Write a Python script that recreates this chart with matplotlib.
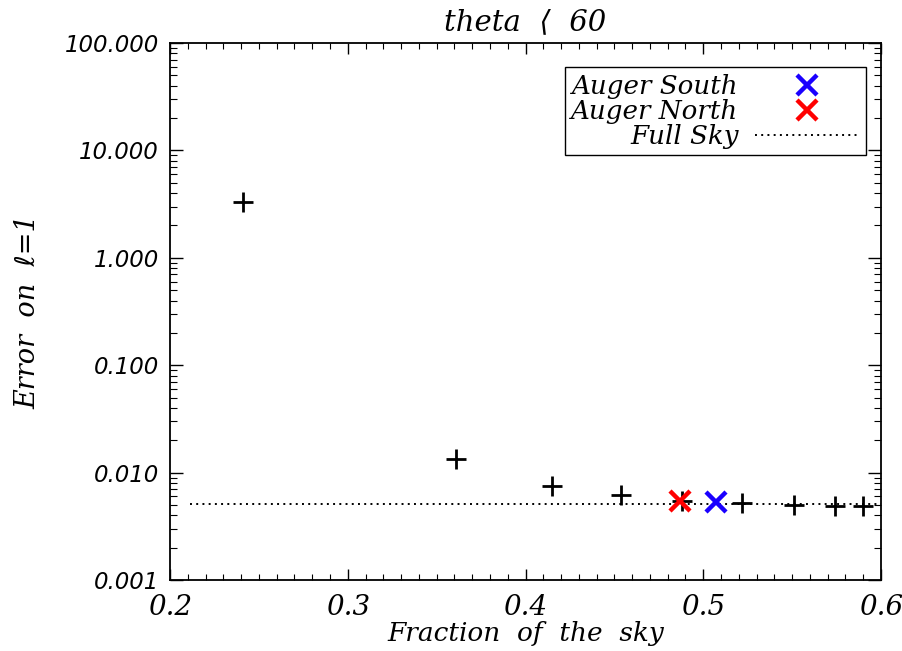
import matplotlib
matplotlib.use("Agg")
import matplotlib.pyplot as plt
from matplotlib.ticker import FixedLocator, FixedFormatter, LogLocator, NullFormatter, MultipleLocator

plt.rcParams['font.family'] = ['DejaVu Serif', 'DejaVu Sans']
plt.rcParams['font.style'] = 'italic'

# ---- data ----
frac_sky = [0.241, 0.361, 0.415, 0.454, 0.488, 0.522, 0.551, 0.574, 0.590]
err_dipole = [3.3, 0.0134, 0.0075, 0.00615, 0.00546, 0.00518, 0.00499, 0.00492, 0.00488]

south_x = [0.507]
south_y = [0.00532]
north_x = [0.487]
north_y = [0.00546]

full_sky_x = [0.211, 0.600]
full_sky_y = [0.00510, 0.00510]

xticks = [0.2, 0.3, 0.4, 0.5, 0.6]
xtick_labels = ['0.2', '0.3', '0.4', '0.5', '0.6']
yticks = [0.001, 0.01, 0.1, 1.0, 10.0, 100.0]
ytick_labels = ['0.001', '0.010', '0.100', '1.000', '10.000', '100.000']

title = 'theta  \u27e8  60'
xlabel = 'Fraction  of  the  sky'
ylabel = 'Error  on  \u2113=1'

# ---- figure ----
fig = plt.figure(figsize=(9.03, 6.51), dpi=100)
ax = fig.add_axes([170/903, 1-580/651, (881-170)/903, (580-43)/651])

ax.plot(full_sky_x, full_sky_y, color='black', lw=1.4, linestyle=(0, (1, 2.2)),
        label='Full Sky', zorder=2)
ax.plot(frac_sky, err_dipole, linestyle='none', marker='+', ms=14, mew=2.0,
        color='black', zorder=3)
ax.plot(north_x, north_y, linestyle='none', marker='x', ms=14, mew=3.2,
        color='#ff0000', label='Auger North', zorder=4)
ax.plot(south_x, south_y, linestyle='none', marker='x', ms=14, mew=3.2,
        color='#1a00ff', label='Auger South', zorder=4)

ax.set_yscale('log')
ax.set_xlim(0.2, 0.6)
ax.set_ylim(0.001, 100)

ax.xaxis.set_major_locator(FixedLocator(xticks))
ax.xaxis.set_major_formatter(FixedFormatter(xtick_labels))
ax.xaxis.set_minor_locator(MultipleLocator(0.01))
ax.yaxis.set_major_locator(FixedLocator(yticks))
ax.yaxis.set_major_formatter(FixedFormatter(ytick_labels))
ax.yaxis.set_minor_locator(LogLocator(base=10, subs=range(2, 10), numticks=20))
ax.yaxis.set_minor_formatter(NullFormatter())

ax.tick_params(axis='x', which='major', direction='in', length=8, width=1.0,
               top=True, bottom=True, pad=10, labelsize=20)
ax.tick_params(axis='x', which='minor', direction='in', length=4, width=0.8,
               top=True, bottom=True)
ax.tick_params(axis='y', which='major', direction='in', length=9.5, width=1.0,
               left=True, right=True, pad=8, labelsize=16.5,
               labelfontfamily='DejaVu Sans')
ax.tick_params(axis='y', which='minor', direction='in', length=5, width=0.8,
               left=True, right=True)

for s in ax.spines.values():
    s.set_linewidth(1.3)

ax.set_title(title, fontsize=21, pad=9)
ax.set_xlabel(xlabel, fontsize=19, labelpad=0)
ax.set_ylabel(ylabel, fontsize=19.5, labelpad=17)

handles, labels = ax.get_legend_handles_labels()
order = [2, 1, 0]
leg = ax.legend([handles[i] for i in order], [labels[i] for i in order],
                loc='upper right', bbox_to_anchor=(0.979, 0.955),
                borderaxespad=0, markerfirst=False, fancybox=False,
                framealpha=1, edgecolor='black', handlelength=4.0,
                labelspacing=0.0, borderpad=0.25, handletextpad=0.63,
                prop={'family': 'DejaVu Serif', 'style': 'italic', 'size': 18.8})
leg.get_frame().set_linewidth(1.0)
try:
    for col in leg._legend_handle_box.get_children():
        col.align = 'right'
except Exception:
    pass

fig.savefig('out.png', dpi=100)
